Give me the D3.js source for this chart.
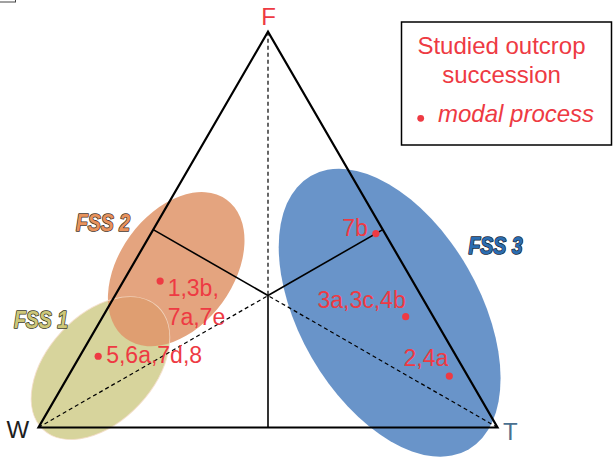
<!DOCTYPE html>
<html>
<head>
<meta charset="utf-8">
<script src="https://cdn.jsdelivr.net/npm/d3@7"></script>
<style>
  html, body { margin: 0; padding: 0; background: #fff; }
  svg { display: block; }
</style>
</head>
<body>
<svg id="chart" width="613" height="460"></svg>
<script>
// Ternary end-members: bottom-left, bottom-right, apex
const cornerW = "W";
const cornerT = "T";
const cornerF = "F";

// Modal process of each studied succession, composition in % (F, W, T)
const sites = ["1,3b,|7a,7e", "5,6a,7d,8", "7b", "3a,3c,4b", "2,4a"];
const siteF = [37, 18, 49, 28, 13];
const siteW = [55, 78, 2, 6, 4];
const siteT = [8, 4, 49, 66, 83];

// Facies-succession fields: centre composition in % (F, W, T),
// semi-axes as a fraction of the triangle side, tilt in degrees
const fields = ["FSS 1", "FSS 2", "FSS 3"];
const fieldF = [15, 40, 29];
const fieldW = [79, 50, 9];
const fieldT = [6, 10, 62];
const fieldMajor = [0.183, 0.187, 0.344];
const fieldMinor = [0.116, 0.124, 0.196];
const fieldTilt = [-47, -54, 60];

// Legend text
const legendTitle = ["Studied outcrop", "succession"];
const legendItem = "modal process";

const RED = "#ee3a43";
const FONT = "'Liberation Sans', Arial, sans-serif";

const svg = d3.select("#chart");

// x: position along the base (T share + half the F share), y: F share (height)
const x = d3.scaleLinear().domain([0, 1]).range([38.5, 497.5]);
const y = d3.scaleLinear().domain([0, 1]).range([427.5, 31.7]);

function proj(f, w, t) {
  const s = f + w + t;
  const ff = f / s, tt = t / s;
  return [x(tt + ff / 2), y(ff)];
}

// small frame corner peeking in at the top-left
svg.append("rect")
  .attr("x", -10).attr("y", -20).attr("width", 25.5).attr("height", 22)
  .attr("fill", "none").attr("stroke", "#444").attr("stroke-width", 1);

// ---- fields (ellipses) ----
const fieldStyle = [
  { fill: "#d7d49c", opacity: 1 },
  { fill: "#e0956a", opacity: 0.86 },
  { fill: "#6994c9", opacity: 1 }
];
const side = x(1) - x(0);
const fieldG = svg.append("g");
[0, 1, 2].forEach(i => {
  const c = proj(fieldF[i], fieldW[i], fieldT[i]);
  fieldG.append("ellipse")
    .attr("transform", `translate(${c[0]},${c[1]}) rotate(${fieldTilt[i]})`)
    .attr("rx", fieldMajor[i] * side)
    .attr("ry", fieldMinor[i] * side)
    .attr("fill", fieldStyle[i].fill)
    .attr("fill-opacity", fieldStyle[i].opacity);
});
// faint rim of FSS 1 showing through FSS 2
{
  const c = proj(fieldF[0], fieldW[0], fieldT[0]);
  fieldG.append("ellipse")
    .attr("transform", `translate(${c[0]},${c[1]}) rotate(${fieldTilt[0]})`)
    .attr("rx", fieldMajor[0] * side)
    .attr("ry", fieldMinor[0] * side)
    .attr("fill", "none")
    .attr("stroke", "#f4dcc8")
    .attr("stroke-width", 1)
    .attr("stroke-opacity", 0.8);
}

// ---- triangle frame ----
const pW = proj(0, 1, 0), pT = proj(0, 0, 1), pF = proj(1, 0, 0);
const centre = proj(1, 1, 1);
const line = d3.line();

// dashed lines from each apex to the centre
[pF, pW, pT].forEach(p => {
  svg.append("path")
    .attr("d", line([p, centre]))
    .attr("stroke", "#000").attr("stroke-width", 1.2)
    .attr("stroke-dasharray", "4,3").attr("fill", "none");
});
// solid lines from the centre to the middle of each side
[proj(1, 1, 0), proj(1, 0, 1), proj(0, 1, 1)].forEach(p => {
  svg.append("path")
    .attr("d", line([centre, p]))
    .attr("stroke", "#000").attr("stroke-width", 1.6).attr("fill", "none");
});
svg.append("path")
  .attr("d", line([pW, pT, pF]) + "Z")
  .attr("stroke", "#000").attr("stroke-width", 2.2)
  .attr("fill", "none").attr("stroke-linejoin", "miter");

// ---- corner labels ----
svg.append("text").text(cornerF)
  .attr("x", pF[0] + 0.5).attr("y", 25).attr("text-anchor", "middle")
  .attr("font-family", FONT).attr("font-size", 24).attr("fill", RED);
svg.append("text").text(cornerW)
  .attr("x", 6.5).attr("y", 438)
  .attr("font-family", FONT).attr("font-size", 24).attr("fill", "#1e1e1e");
svg.append("text").text(cornerT)
  .attr("x", 503).attr("y", 440)
  .attr("font-family", FONT).attr("font-size", 24).attr("fill", "#4a7090");

// ---- field names ----
const fieldLabelStyle = [
  { fill: "#cdc779", stroke: "#3a3924", x: 14, y: 328 },
  { fill: "#e8925c", stroke: "#45352a", x: 76, y: 231 },
  { fill: "#2b6db1", stroke: "#1a2838", x: 468.5, y: 254 }
];
fields.forEach((name, i) => {
  const s = fieldLabelStyle[i];
  svg.append("text").text(name)
    .attr("x", s.x).attr("y", s.y)
    .attr("font-family", FONT).attr("font-size", 23)
    .attr("font-weight", "bold").attr("font-style", "italic")
    .attr("textLength", 54).attr("lengthAdjust", "spacingAndGlyphs")
    .attr("fill", s.fill).attr("stroke", s.stroke).attr("stroke-width", 1.6)
    .attr("stroke-linejoin", "round")
    .attr("paint-order", "stroke");
});

// ---- modal process points ----
const labelPlace = [
  { dx: 7.5, dy: 15, anchor: "start" },
  { dx: 8, dy: 6.6, anchor: "start" },
  { dx: -8, dy: 2, anchor: "end" },
  { dx: 0, dy: -9, anchor: "end" },
  { dx: -1, dy: -10, anchor: "end" }
];
sites.forEach((name, i) => {
  const p = proj(siteF[i], siteW[i], siteT[i]);
  svg.append("circle")
    .attr("cx", p[0]).attr("cy", p[1]).attr("r", 3.6).attr("fill", RED);
  const lp = labelPlace[i];
  const t = svg.append("text")
    .attr("x", p[0] + lp.dx).attr("y", p[1] + lp.dy)
    .attr("text-anchor", lp.anchor)
    .attr("font-family", FONT).attr("font-size", 23).attr("fill", RED);
  name.split("|").forEach((part, k) => {
    t.append("tspan").text(part)
      .attr("x", p[0] + lp.dx).attr("dy", k === 0 ? 0 : 29);
  });
});

// ---- legend ----
const lg = svg.append("g");
lg.append("rect")
  .attr("x", 401.5).attr("y", 22).attr("width", 210).attr("height", 123)
  .attr("fill", "#fff").attr("stroke", "#000").attr("stroke-width", 1.5);
legendTitle.forEach((s, k) => {
  lg.append("text").text(s)
    .attr("x", 501.5).attr("y", 54 + k * 29).attr("text-anchor", "middle")
    .attr("font-family", FONT).attr("font-size", 24).attr("fill", RED);
});
lg.append("circle").attr("cx", 420.7).attr("cy", 118.3).attr("r", 3.4).attr("fill", RED);
lg.append("text").text(legendItem)
  .attr("x", 438).attr("y", 122)
  .attr("font-family", FONT).attr("font-size", 24).attr("font-style", "italic")
  .attr("fill", RED);
</script>
</body>
</html>
